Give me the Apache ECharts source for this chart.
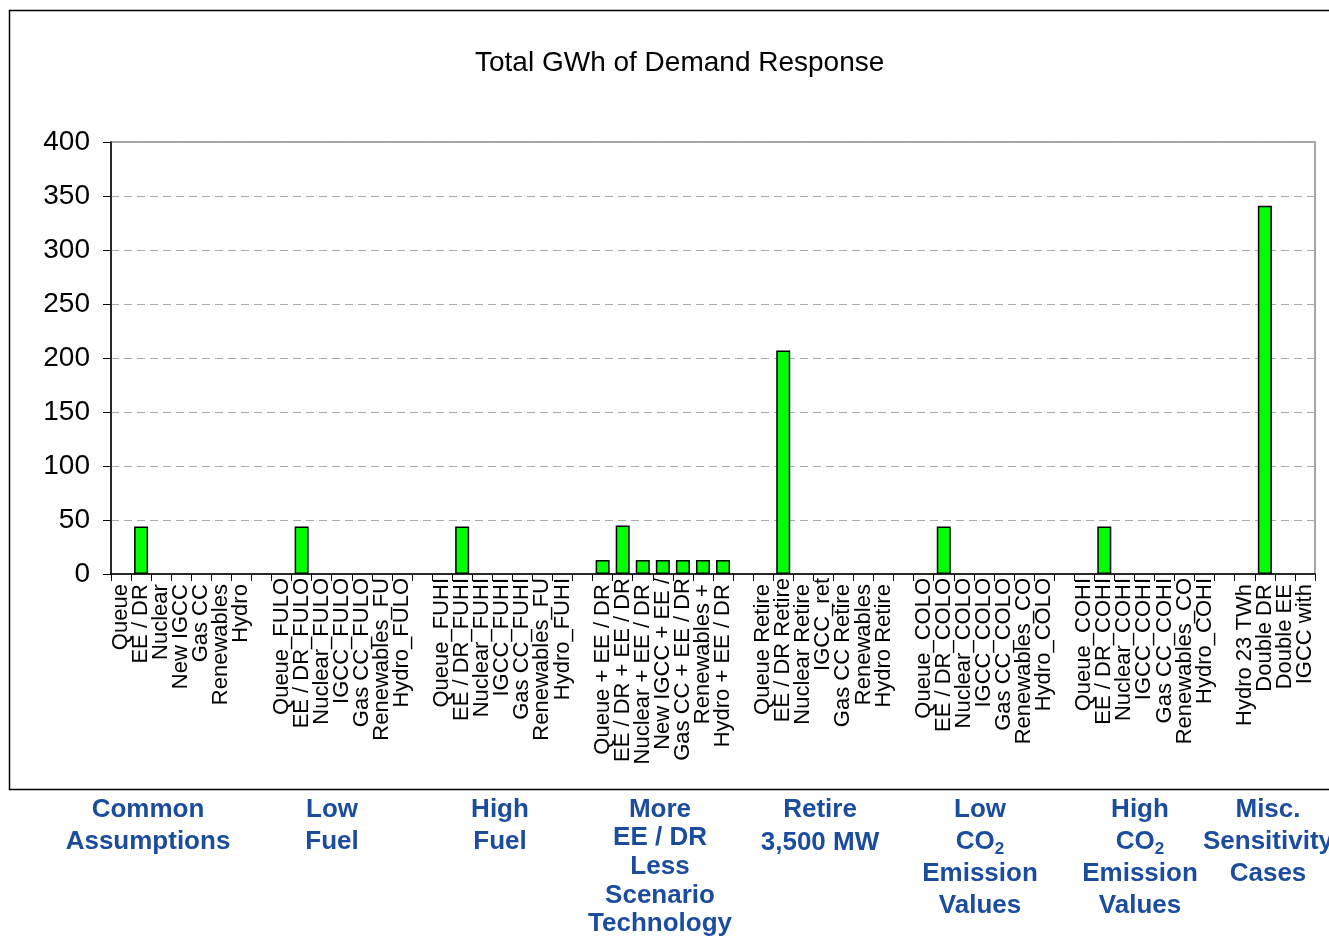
<!DOCTYPE html>
<html>
<head>
<meta charset="utf-8">
<title>Total GWh of Demand Response</title>
<script src="https://cdn.jsdelivr.net/npm/echarts@6/dist/echarts.min.js"></script>
<style>
  html, body { margin: 0; padding: 0; background: #fff; }
  #chart { width: 1329px; height: 937px; }
</style>
</head>
<body>
<div id="chart"></div>
<script>
// case names per scenario group (labels as they appear, truncated ones included)
var commonNames = ['Queue ', 'EE / DR ', 'Nuclear ', 'New IGCC ', 'Gas CC ', 'Renewables ', 'Hydro ']
var lowFuelNames = ['Queue_FULO', 'EE / DR_FULO', 'Nuclear_FULO', 'IGCC_FULO', 'Gas CC_FULO', 'Renewables_FU', 'Hydro_FULO']
var highFuelNames = ['Queue_FUHI', 'EE / DR_FUHI', 'Nuclear_FUHI', 'IGCC_FUHI', 'Gas CC_FUHI', 'Renewables_FU', 'Hydro_FUHI']
var moreEENames = ['Queue + EE / DR ', 'EE / DR + EE / DR', 'Nuclear + EE / DR ', 'New IGCC + EE /', 'Gas CC + EE / DR', 'Renewables + ', 'Hydro + EE / DR ']
var retireNames = ['Queue Retire ', 'EE / DR Retire', 'Nuclear Retire ', 'IGCC_ret', 'Gas CC Retire ', 'Renewables ', 'Hydro Retire ']
var lowCO2Names = ['Queue_COLO', 'EE / DR_COLO', 'Nuclear_COLO', 'IGCC_COLO', 'Gas CC_COLO', 'Renewables_CO', 'Hydro_COLO']
var highCO2Names = ['Queue_COHI', 'EE / DR_COHI', 'Nuclear_COHI', 'IGCC_COHI', 'Gas CC_COHI', 'Renewables_CO', 'Hydro_COHI']
var miscNames = ['Hydro 23 TWh ', 'Double DR ', 'Double EE ', 'IGCC with ']

// GWh of demand response (null = no bar)
var commonVals = [null, 44, null, null, null, null, null]
var lowFuelVals = [null, 44, null, null, null, null, null]
var highFuelVals = [null, 44, null, null, null, null, null]
var moreEEVals = [13, 45, 13, 13, 13, 13, 13]
var retireVals = [null, 207, null, null, null, null, null]
var lowCO2Vals = [null, 44, null, null, null, null, null]
var highCO2Vals = [null, 44, null, null, null, null, null]
var miscVals = [null, 341, null, null]

var yTicks = [0, 50, 100, 150, 200, 250, 300, 350, 400]

var groupNames = [commonNames, lowFuelNames, highFuelNames, moreEENames, retireNames, lowCO2Names, highCO2Names, miscNames]
var groupVals = [commonVals, lowFuelVals, highFuelVals, moreEEVals, retireVals, lowCO2Vals, highCO2Vals, miscVals]

// one empty slot between groups
var categories = []
var values = []
for (var g = 0; g < groupNames.length; g++) {
	if (g > 0) {
		categories.push('')
		values.push(null)
	}
	categories = categories.concat(groupNames[g])
	values = values.concat(groupVals[g])
}

var FONT = 'Liberation Sans, Arial, sans-serif'
var BLUE = '#1b4c9e'

function groupLabel(x, y, text, lh) {
	return {
		type: 'text',
		x: x,
		y: y,
		style: {
			text: text,
			fill: BLUE,
			font: 'bold 26px ' + FONT,
			textAlign: 'center',
			textVerticalAlign: 'top',
			lineHeight: lh,
			rich: {
				sub: { fontSize: 17, fontWeight: 'bold', fill: BLUE, verticalAlign: 'bottom', padding: [14, 0, 0, 0] }
			}
		}
	}
}

var chart = echarts.init(document.getElementById('chart'))

chart.setOption({
	animation: false,
	backgroundColor: '#fff',
	textStyle: { fontFamily: FONT },
	title: {
		text: 'Total GWh of Demand Response',
		left: 470,
		top: 44,
		textStyle: { fontSize: 28, fontWeight: 'normal', color: '#000', fontFamily: FONT }
	},
	grid: {
		left: 111,
		right: 14,
		top: 142,
		bottom: 363,
		show: true,
		borderColor: '#888',
		borderWidth: 1.5,
		backgroundColor: '#fff'
	},
	xAxis: {
		type: 'category',
		data: categories,
		axisLine: { lineStyle: { color: '#000', width: 1.5 } },
		axisTick: { show: true, length: 7, interval: 0, lineStyle: { color: '#000' } },
		axisLabel: {
			interval: 0,
			rotate: 90,
			margin: 4,
			fontSize: 22,
			color: '#000',
			fontFamily: FONT
		}
	},
	yAxis: {
		type: 'value',
		min: yTicks[0],
		max: yTicks[yTicks.length - 1],
		interval: yTicks[1] - yTicks[0],
		axisLine: { show: true, lineStyle: { color: '#000', width: 1.5 } },
		axisTick: { show: true, length: 8, lineStyle: { color: '#000' } },
		axisLabel: { fontSize: 28, color: '#000', margin: 21, fontFamily: FONT },
		splitLine: { show: true, lineStyle: { color: '#aaa', type: [8, 5], width: 1 } }
	},
	series: [{
		type: 'bar',
		data: values,
		barWidth: 14,
		itemStyle: { color: '#00ff00', borderColor: '#000', borderWidth: 1.5 }
	}],
	graphic: [
		{
			type: 'rect',
			shape: { x: 9.5, y: 10.5, width: 1340, height: 779 },
			style: { fill: null, stroke: '#000', lineWidth: 1.5 },
			z: 100
		},
		groupLabel(148, 794, 'Common\nAssumptions', 32),
		groupLabel(332, 794, 'Low\nFuel', 32),
		groupLabel(500, 794, 'High\nFuel', 32),
		groupLabel(660, 795, 'More\nEE / DR\nLess\nScenario\nTechnology', 28.7),
		groupLabel(820, 793, 'Retire\n3,500 MW', 33),
		groupLabel(980, 794, 'Low\nCO{sub|2}\nEmission\nValues', 32),
		groupLabel(1140, 794, 'High\nCO{sub|2}\nEmission\nValues', 32),
		groupLabel(1268, 794, 'Misc.\nSensitivity\nCases', 32)
	]
})
</script>
</body>
</html>
